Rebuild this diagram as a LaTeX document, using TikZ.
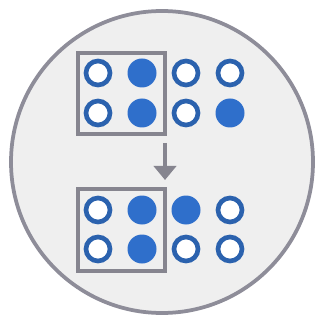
\documentclass[tikz,border=0pt]{standalone}
\usepackage{tikz}
\usetikzlibrary{arrows.meta}
\definecolor{rimgray}{HTML}{8E8D99}
\definecolor{boxgray}{HTML}{86858F}
\definecolor{dotblue}{HTML}{2F6FCB}
\definecolor{ringblue}{HTML}{2B62AE}
\definecolor{discbg}{HTML}{EFEFEF}
\tikzset{
    dotfull/.style={circle, fill=dotblue, inner sep=0pt, minimum size=29*0.03cm},
    dotempty/.style={circle, draw=ringblue, line width=4pt, fill=white, inner sep=0pt, minimum size=24*0.03cm},
    window/.style={draw=boxgray, line width=2.8pt},
}
\begin{document}
\begin{tikzpicture}[x=0.03cm, y=-0.03cm]
        \useasboundingbox (0,0) rectangle (320,320);
        \fill[white] (0,0) rectangle (320,320);

        % disc
        \draw[rimgray, line width=3.2pt, fill=discbg] (162,162) circle (151);

        % windows
        \draw[window] (78,53) rectangle (165,134);
        \draw[window] (78,189) rectangle (165,271);

        % top pattern
        \foreach \c/\r/\s [count=\i] in {98/73/dotempty, 142/73/dotfull, 186/73/dotempty, 230/73/dotempty,
                                 98/113/dotempty, 142/113/dotfull, 186/113/dotempty, 230/113/dotfull}
            \node[\s] (top\i) at (\c,\r) {};

        % bottom pattern
        \foreach \c/\r/\s [count=\i] in {98/210/dotempty, 142/210/dotfull, 186/210/dotfull, 230/210/dotempty,
                                 98/249/dotempty, 142/249/dotfull, 186/249/dotempty, 230/249/dotempty}
            \node[\s] (bot\i) at (\c,\r) {};

        \coordinate (from) at (165,143);
        \coordinate (to) at (165,180);
        \draw[-{Triangle[length=12pt, width=19pt]}, boxgray, line width=3.8pt] (from) -- (to);

    \end{tikzpicture}
\end{document}
